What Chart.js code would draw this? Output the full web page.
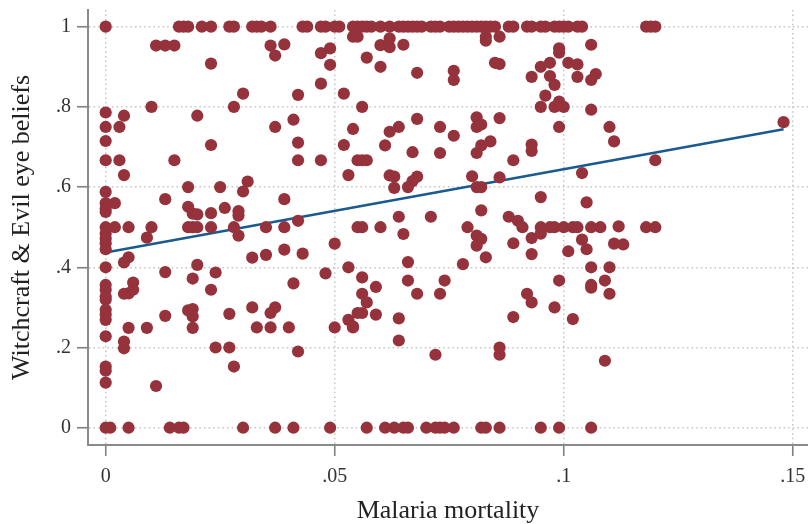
<!DOCTYPE html>
<html><head><meta charset="utf-8">
<style>html,body{margin:0;padding:0;background:#fff}#w{position:relative;width:808px;height:524px}</style>
<script src="https://cdn.jsdelivr.net/npm/chart.js@4"></script>
</head><body><div id="w"><canvas id="c" width="808" height="524"></canvas></div>
<script>
const xTicks = [0, 0.05, 0.1, 0.15];
const yTicks = [0, 0.2, 0.4, 0.6, 0.8, 1];
const xTitle = "Malaria mortality";
const yTitle = "Witchcraft & Evil eye beliefs";

// points sitting on witchcraft = 1
const topRowX = [0,.016,.017,.018,.021,.023,.027,.028,.032,.033,.034,.036,.043,.044,.047,.048,.050,.051,.054,.055,.056,.057,.058,.060,.062,.064,.065,.066,.067,.068,.069,.071,.072,.073,.075,.076,.077,.078,.079,.080,.081,.082,.083,.084,.085,.088,.089,.092,.093,.095,.096,.098,.099,.100,.101,.103,.104,.118,.119,.120];
// points sitting on witchcraft = 0
const zeroRowX = [0,.001,.005,.014,.016,.017,.030,.037,.041,.049,.057,.061,.063,.065,.066,.070,.072,.073,.074,.076,.082,.083,.086,.095,.099,.106];

const otherX = [
.011,.013,.015,.036,.039,.037,.049,.047,.023,.049,.047,.030,.042,.052,.010,.028,0,.004,.020,.041,0,.003,.037,0,.023,.042,.052,.054,.054,0,.003,.015,.042,.047,
.055,.060,.062,.062,.065,.057,.060,.068,.076,.076,.083,.083,.086,.085,.086,.106,.099,.099,.101,.103,.097,.095,.093,.097,.098,.096,.107,.106,.103,.056,.095,.098,.099,.100,.106,
.062,.064,.068,.073,.076,.081,.081,.082,.086,.099,.110,.111,.061,.067,.073,.081,.082,.084,.093,.093,.089,.055,.056,.057,.120,
.004,.053,.031,.018,.025,0,.030,.013,.039,0,.002,0,0,.018,.019,.020,.023,.026,.029,.029,0,.002,.005,.010,.009,.018,.019,.020,.023,.028,.029,.035,.039,.042,.055,0,0,0,0,.005,.004,.050,.032,.035,.039,.043,0,.020,.013,.024,.019,.053,.048,.041,.023,0,0,0,.006,.006,.005,.004,
0,0,0,0,.013,.018,.019,.019,.019,.027,.032,.037,.036,.005,.009,.033,.036,.040,.050,0,.004,.004,.024,.027,.042,.028,0,0,0,.011,.053,.054,
.062,.063,.068,.067,.066,.063,.080,.081,.082,.086,.104,.095,.105,.082,.088,.090,.091,.064,.071,.056,.060,.065,.079,.081,.082,.081,.089,.083,.093,.093,.095,.095,.097,.098,.100,.102,.103,.106,.108,.112,.118,.120,.104,.105,.111,.113,.101,.066,.078,.106,.110,.056,.059,.066,.074,.068,.073,.056,.092,.099,.106,.106,.109,.110,
.057,.093,.055,.056,.059,.064,.054,.098,.089,.102,.064,.086,.086,.072,.109,.148];
const otherY = [
.953,.953,.953,.953,.956,.928,.946,.934,.908,.905,.858,.833,.83,.833,.8,.8,.786,.778,.778,.768,.75,.75,.75,.715,.705,.711,.705,.745,.975,.667,.667,.667,.667,.667,
.975,.954,.971,.949,.955,.923,.9,.885,.89,.867,.975,.965,.975,.91,.907,.955,.946,.935,.91,.906,.91,.9,.875,.877,.855,.828,.882,.867,.875,.8,.8,.8,.813,.8,.793,
.738,.75,.77,.75,.728,.774,.75,.756,.772,.75,.75,.714,.704,.687,.685,.685,.704,.714,.706,.69,.667,.667,.667,.667,.667,
.63,.63,.614,.6,.6,.588,.589,.57,.57,.56,.56,.546,.538,.551,.534,.532,.535,.548,.54,.529,.5,.5,.5,.5,.474,.5,.5,.5,.5,.5,.479,.5,.5,.516,.5,.484,.472,.46,.445,.425,.412,.459,.424,.431,.444,.434,.4,.406,.388,.387,.372,.4,.385,.36,.344,.356,.344,.327,.362,.344,.335,.334,
.319,.294,.282,.269,.279,.2925,.296,.2775,.249,.284,.3,.3,.286,.249,.249,.25,.25,.25,.25,.228,.215,.198,.2,.2,.19,.1525,.1525,.142,.1125,.104,.269,.2525,
.629,.626,.626,.615,.6,.598,.627,.6,.6,.624,.635,.575,.562,.542,.526,.516,.5,.526,.526,.5,.5,.483,.5,.479,.471,.454,.46,.425,.473,.433,.5,.484,.5,.5,.5,.5,.5,.5,.5,.502,.5,.5,.469,.445,.459,.457,.44,.413,.408,.4,.4,.375,.351,.367,.367,.334,.334,.334,.334,.367,.356,.349,.367,.334,
.3125,.3125,.286,.286,.282,.2725,.25,.3,.276,.271,.2175,.2,.182,.182,.167,.762];

const fitX = [0, 0.148];
const fitY = [0.437, 0.744];

const points = [
  ...topRowX.map(x => ({x, y: 1})),
  ...zeroRowX.map(x => ({x, y: 0})),
  ...otherX.map((x, i) => ({x, y: otherY[i]}))
];
const fitLine = fitX.map((x, i) => ({x, y: fitY[i]}));
const serif = '"Liberation Serif", serif';
const fmt = v => v === 0 ? '0' : (v === 1 ? '1' : String(+v.toFixed(2)).replace(/^0/, ''));
const grid = {color:'#c4c4c4', lineWidth:1.5, drawTicks:true, tickLength:11, tickColor:'#808080', tickBorderDash:[], tickWidth:1.6};
const border = {display:true, color:'#8a8a8a', width:2, dash:[1.5,3.1]};
const noPad = s => { s.paddingTop = s.paddingBottom = s.paddingLeft = s.paddingRight = 0; };

new Chart(document.getElementById('c'), {
  type: 'scatter',
  data: {datasets: [
    {label:'Observed', data:points, backgroundColor:'#95323b', borderColor:'#95323b', borderWidth:0, pointRadius:6.1, pointHoverRadius:6.1, order:1, clip:false},
    {label:'Fitted', type:'line', data:fitLine, borderColor:'#1a5a8e', borderWidth:2.5, pointRadius:0, tension:0, fill:false, order:2, clip:false}
  ]},
  options: {
    responsive:false, animation:false, events:[],
    layout:{autoPadding:false, padding:{top:10,right:0,left:0,bottom:0}},
    plugins:{legend:{display:false}, tooltip:{enabled:false}},
    scales:{
      x:{type:'linear', min:-0.00386, max:0.15334,
        afterBuildTicks:a=>{a.ticks=xTicks.map(value=>({value}))},
        afterFit:s=>{s.height=79; noPad(s)},
        grid, border,
        ticks:{callback:fmt, color:'#333', font:{family:serif,size:20}, maxRotation:0, autoSkip:false, padding:9},
        title:{display:true, text:xTitle, color:'#222', font:{family:serif,size:26,lineHeight:1}, padding:{top:0,bottom:0}}},
      y:{type:'linear', min:-0.0431, max:1.0416,
        afterBuildTicks:a=>{a.ticks=yTicks.map(value=>({value}))},
        afterFit:s=>{s.width=88; noPad(s)},
        grid, border,
        ticks:{callback:fmt, color:'#333', font:{family:serif,size:20}, autoSkip:false, padding:6},
        title:{display:true, text:yTitle, color:'#222', font:{family:serif,size:26,lineHeight:1}, padding:{top:9,bottom:0}}}
    }
  }
});
</script></body></html>
